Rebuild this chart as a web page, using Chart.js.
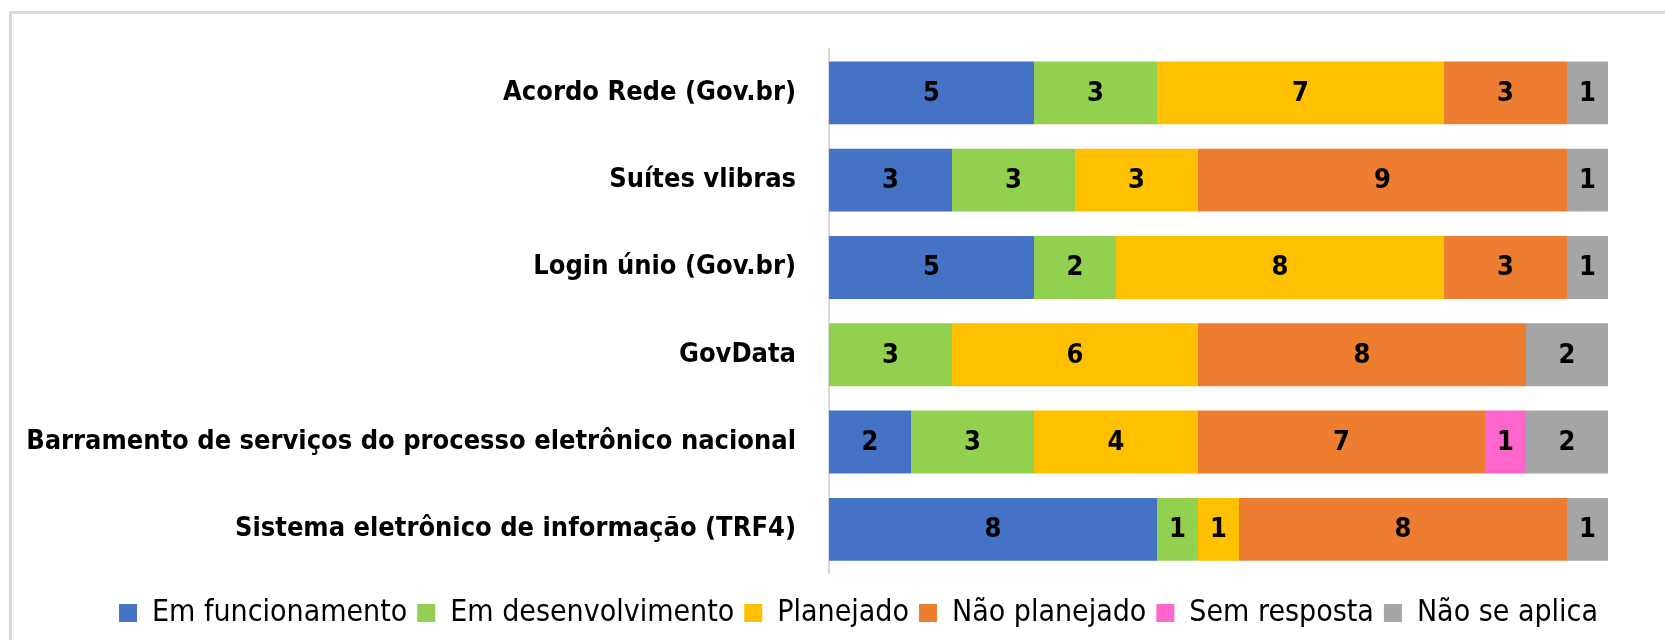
<!DOCTYPE html>
<html>
<head>
<meta charset="utf-8">
<script src="https://cdn.jsdelivr.net/npm/chart.js@4.4.1/dist/chart.umd.min.js"></script>
<style>
  html, body { margin: 0; padding: 0; background: #fff; }
  #wrap { position: relative; width: 1665px; height: 640px; overflow: hidden; }
  #frame { position: absolute; left: 9px; top: 11px; width: 1700px; height: 700px;
           border-top: 3px solid #d9d9d9; border-left: 3px solid #d9d9d9; box-sizing: border-box; }
  canvas { position: absolute; left: 0; top: 0; }
</style>
</head>
<body>
<div id="wrap">
  <div id="frame"></div>
  <canvas id="c" width="1665" height="640"></canvas>
</div>
<script>
const categories = [
  "Acordo Rede (Gov.br)",
  "Suítes vlibras",
  "Login únio (Gov.br)",
  "GovData",
  "Barramento de serviços do processo eletrônico nacional",
  "Sistema eletrônico de informação (TRF4)"
];
const seriesNames = ["Em funcionamento", "Em desenvolvimento", "Planejado", "Não planejado", "Sem resposta", "Não se aplica"];
const emFuncionamento   = [5, 3, 5, 0, 2, 8];
const emDesenvolvimento = [3, 3, 2, 3, 3, 1];
const planejado         = [7, 3, 8, 6, 4, 1];
const naoPlanejado      = [3, 9, 3, 8, 7, 8];
const semResposta       = [0, 0, 0, 0, 1, 0];
const naoSeAplica       = [1, 1, 1, 2, 2, 1];
const colors = ["#4472C4", "#92D050", "#FFC000", "#ED7D31", "#FF66CC", "#A5A5A5"];

const FONT = "'DejaVu Sans Condensed', 'Liberation Sans', sans-serif";
const values = [emFuncionamento, emDesenvolvimento, planejado, naoPlanejado, semResposta, naoSeAplica];

const dataLabels = {
  id: 'dataLabels',
  afterDatasetsDraw(chart) {
    const ctx = chart.ctx;
    ctx.save();
    ctx.font = "bold 27px " + FONT;
    ctx.fillStyle = "#000";
    ctx.textAlign = "center";
    ctx.textBaseline = "middle";
    chart.data.datasets.forEach((ds, di) => {
      const meta = chart.getDatasetMeta(di);
      meta.data.forEach((bar, i) => {
        const v = ds.data[i];
        if (!v) return;
        const p = bar.getProps(['x', 'y', 'base'], true);
        ctx.fillText(String(v), (p.x + p.base) / 2, p.y + 1);
      });
    });
    ctx.restore();
  }
};

new Chart(document.getElementById('c'), {
  type: 'bar',
  data: {
    labels: categories,
    datasets: seriesNames.map((n, k) => ({
      label: n,
      data: values[k],
      backgroundColor: colors[k],
      borderWidth: 0,
      barPercentage: 1,
      categoryPercentage: 0.72
    }))
  },
  options: {
    indexAxis: 'y',
    responsive: false,
    animation: false,
    devicePixelRatio: 1,
    layout: { padding: { left: 10, right: 57, top: 41, bottom: 2 } },
    scales: {
      x: {
        stacked: true, min: 0, max: 19,
        grid: { display: false }, border: { display: false },
        ticks: { display: false },
        afterFit: s => { s.height = 15; }
      },
      y: {
        stacked: true,
        grid: { display: false, drawTicks: false },
        border: { display: true, color: '#d9d9d9', width: 2 },
        ticks: { color: '#000', padding: 33, font: { family: FONT, size: 27, weight: 'bold' } },
        afterFit: s => { s.width = 829 - 10; }
      }
    },
    plugins: {
      legend: {
        position: 'bottom',
        align: 'end',
        labels: {
          color: '#000',
          boxWidth: 18, boxHeight: 18, padding: 10,
          font: { family: FONT, size: 30 }
        }
      },
      tooltip: { enabled: false }
    }
  },
  plugins: [dataLabels]
});
</script>
</body>
</html>
